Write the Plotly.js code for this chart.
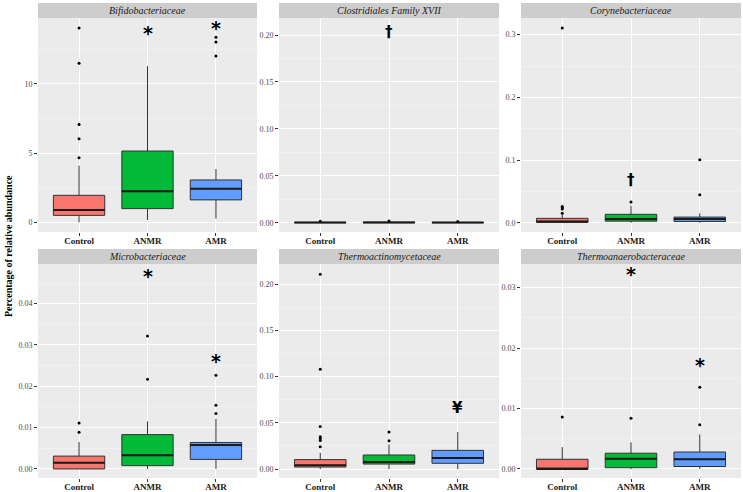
<!DOCTYPE html>
<html>
<head>
<meta charset="utf-8">
<script src="https://cdn.plot.ly/plotly-3.0.1.min.js"></script>
<style>html,body{margin:0;padding:0;background:#fff}#chart{width:743px;height:492px}</style>
</head>
<body>
<div id="chart"></div>
<script>
// ---------- data ----------
const groups = ["Control", "ANMR", "AMR"];
const families = ["Bifidobacteriaceae", "Clostridiales Family XVII", "Corynebacteriaceae",
                  "Microbacteriaceae", "Thermoactinomycetaceae", "Thermoanaerobacteraceae"];
// per family: [Control, ANMR, AMR]
const lowerWhisker = [
  [0.00, 0.17, 0.27],
  [0, 0, 0],
  [0, 0, 0],
  [0, 0, 0],
  [0, 0, 0],
  [0, 0, 0]
];
const q1 = [
  [0.50, 0.99, 1.62],
  [0, 0, 0],
  [0.0005, 0.0025, 0.002],
  [0.0000, 0.0008, 0.0023],
  [0.0022, 0.0054, 0.0062],
  [0.0000, 0.0002, 0.0004]
];
const median = [
  [0.89, 2.24, 2.43],
  [0.0001, 0.0002, 0.0001],
  [0.002, 0.006, 0.006],
  [0.0015, 0.0033, 0.0058],
  [0.0040, 0.0076, 0.0119],
  [0.0000, 0.0017, 0.0016]
];
const q3 = [
  [1.95, 5.15, 3.06],
  [0.0004, 0.0007, 0.0003],
  [0.007, 0.0134, 0.009],
  [0.0031, 0.0083, 0.0064],
  [0.0102, 0.0152, 0.0202],
  [0.0016, 0.0026, 0.0028]
];
const upperWhisker = [
  [4.09, 11.28, 3.85],
  [0.0008, 0.0012, 0.0006],
  [0.013, 0.027, 0.015],
  [0.0065, 0.0115, 0.0121],
  [0.0176, 0.0265, 0.0400],
  [0.0036, 0.0044, 0.0057]
];
const outliers = [
  [[4.66, 6.03, 7.07, 11.49, 14.04], [], [12.02, 13.03, 13.37]],
  [[0.0015], [0.0017], [0.0013]],
  [[0.015, 0.022, 0.024, 0.026, 0.3106], [0.033], [0.0447, 0.1005]],
  [[0.0089, 0.0111], [0.0217, 0.0322], [0.0134, 0.0154, 0.0227]],
  [[0.024, 0.031, 0.033, 0.035, 0.046, 0.108, 0.2107], [0.0306, 0.040], []],
  [[0.0086], [0.0084], [0.0073, 0.0135]]
];
// significance marks
const sigFamily = [0, 0, 1, 2, 3, 3, 4, 5, 5];
const sigGroup  = [1, 2, 1, 1, 1, 2, 2, 1, 2];
const sigSymbol = ["*", "*", "†", "†", "*", "*", "¥", "*", "*"];
const sigValue  = [13.77, 14.13, 0.2036, 0.068, 0.047, 0.0264, 0.0657, 0.0324, 0.0173];
const yTickStep = [5, 0.05, 0.1, 0.01, 0.05, 0.01];
const yTickFormat = ["", ".2f", ".1f", ".2f", ".2f", ".2f"];
const yRange = [[-0.70, 14.76], [-0.0099, 0.2182], [-0.0148, 0.3266],
                [-0.0022, 0.0496], [-0.0097, 0.2219], [-0.0015, 0.0339]];

// ---------- styling / layout ----------
const fills = ["#F8766D", "#00BA38", "#619CFF"];
const W = 743, H = 492;
const colPx = [[38, 257], [279, 499], [521, 741]];
const rowPx = [{strip: [3, 18], plot: [18, 232]}, {strip: [249, 264], plot: [264, 478]}];
const px2x = p => p / W;
const px2y = p => 1 - p / H;
const boxW = 0.75;

const traces = [];
const layout = {
  width: W, height: H,
  margin: {l: 0, r: 0, t: 0, b: 0},
  paper_bgcolor: "#FFFFFF",
  plot_bgcolor: "#EBEBEB",
  showlegend: false,
  font: {family: "Liberation Serif, serif", color: "#1A1A1A"},
  shapes: [],
  annotations: []
};

families.forEach((fam, f) => {
  const r = Math.floor(f / 3), c = f % 3;
  const sfx = f === 0 ? "" : String(f + 1);
  const xa = "x" + sfx, ya = "y" + sfx;
  layout["xaxis" + sfx] = {
    domain: [px2x(colPx[c][0]), px2x(colPx[c][1])],
    anchor: ya,
    range: [-0.6, 2.6],
    tickvals: [0, 1, 2],
    ticktext: groups,
    showgrid: true, gridcolor: "#FFFFFF", gridwidth: 1,
    zeroline: false, showline: false,
    ticks: "outside", ticklen: 3, tickcolor: "#333333", tickwidth: 1,
    ticklabelstandoff: -3,
    tickfont: {size: 9, color: "#1A1A1A", family: "Liberation Serif, serif", weight: "bold"},
    fixedrange: true
  };
  layout["yaxis" + sfx] = {
    domain: [px2y(rowPx[r].plot[1]), px2y(rowPx[r].plot[0])],
    anchor: xa,
    range: yRange[f],
    dtick: yTickStep[f], tick0: 0,
    tickformat: yTickFormat[f],
    showgrid: true, gridcolor: "#FFFFFF", gridwidth: 1,
    minor: {dtick: yTickStep[f] / 2, tick0: 0, showgrid: true, gridcolor: "#F7F7F7", gridwidth: 0.5},
    zeroline: false, showline: false,
    ticks: "outside", ticklen: 3, tickcolor: "#333333", tickwidth: 1,
    tickfont: {size: 8, color: "#4D4D4D", family: "Liberation Serif, serif"},
    fixedrange: true
  };
  layout.shapes.push({
    type: "rect", xref: "paper", yref: "paper", layer: "below",
    x0: px2x(colPx[c][0]), x1: px2x(colPx[c][1]),
    y0: px2y(rowPx[r].strip[1]), y1: px2y(rowPx[r].strip[0]),
    fillcolor: "#CDCDCD", line: {width: 0}
  });
  layout.annotations.push({
    xref: "paper", yref: "paper",
    x: px2x((colPx[c][0] + colPx[c][1]) / 2),
    y: px2y((rowPx[r].strip[0] + rowPx[r].strip[1]) / 2),
    text: "<i>" + fam + "</i>", showarrow: false,
    xanchor: "center", yanchor: "middle",
    font: {size: 10, color: "#1A1A1A", family: "Liberation Serif, serif"}
  });

  groups.forEach((g, gi) => {
    traces.push({
      type: "box", xaxis: xa, yaxis: ya,
      x: [gi],
      q1: [q1[f][gi]], median: [median[f][gi]], q3: [q3[f][gi]],
      lowerfence: [lowerWhisker[f][gi]], upperfence: [upperWhisker[f][gi]],
      width: boxW, whiskerwidth: 0, boxpoints: false,
      fillcolor: fills[gi],
      line: {color: "#333333", width: 1},
      hoverinfo: "skip", showlegend: false
    });
    traces.push({
      type: "scatter", mode: "lines", xaxis: xa, yaxis: ya,
      x: [gi - boxW / 2, gi + boxW / 2],
      y: [median[f][gi], median[f][gi]],
      line: {color: "#1A1A1A", width: 2},
      hoverinfo: "skip", showlegend: false
    });
    if (outliers[f][gi].length) {
      traces.push({
        type: "scatter", mode: "markers", xaxis: xa, yaxis: ya,
        x: outliers[f][gi].map(() => gi),
        y: outliers[f][gi],
        marker: {color: "#000000", size: 3},
        hoverinfo: "skip", showlegend: false
      });
    }
  });
});

sigFamily.forEach((f, k) => {
  const sfx = f === 0 ? "" : String(f + 1);
  const sym = sigSymbol[k];
  const isStar = sym === "*";
  layout.annotations.push({
    xref: "x" + sfx, yref: "y" + sfx,
    x: sigGroup[k], y: sigValue[k],
    text: "<b>" + sym + "</b>", showarrow: false,
    xanchor: "center", yanchor: "middle",
    yshift: isStar ? -1 : 0,
    font: {size: isStar ? 19 : 15, color: "#000000", family: "DejaVu Sans, sans-serif"}
  });
});

layout.annotations.push({
  xref: "paper", yref: "paper",
  x: px2x(8), y: px2y(246),
  text: "<b>Percentage of relative abundance</b>",
  textangle: -90, showarrow: false,
  xanchor: "center", yanchor: "middle",
  font: {size: 10, color: "#000000", family: "Liberation Serif, serif"}
});

Plotly.newPlot("chart", traces, layout, {staticPlot: true, displayModeBar: false});
</script>
</body>
</html>
